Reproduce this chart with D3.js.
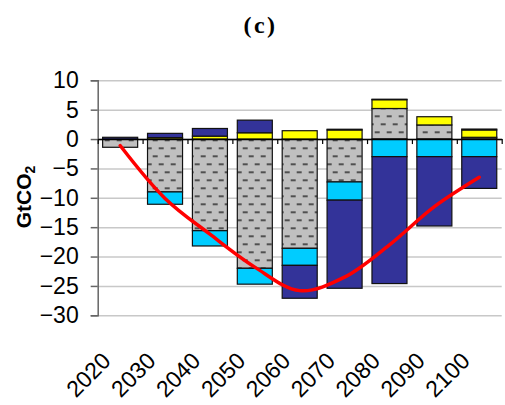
<!DOCTYPE html>
<html>
<head>
<meta charset="utf-8">
<script src="https://cdn.jsdelivr.net/npm/d3@7"></script>
<style>
  html, body { margin: 0; padding: 0; background: #fff; }
  svg { display: block; }
</style>
</head>
<body>
<div id="chart"></div>
<script>
'use strict';

// ---- data ----
var years      = ['2020', '2030', '2040', '2050', '2060', '2070', '2080', '2090', '2100'];
var yTicks     = [10, 5, 0, -5, -10, -15, -20, -25, -30];
var grayVals   = [-1.4, -9.0, -15.6, -22.0, -18.6, -7.3, 5.2, 2.4, 0.3];
var cyanVals   = [0, -2.1, -2.6, -2.7, -2.9, -3.1, -3.0, -3.0, -3.0];
var yellowVals = [0, 0.25, 0.5, 1.07, 1.42, 1.55, 1.5, 1.4, 1.25];
var navyVals   = [0.3, 0.72, 1.3, 2.15, -5.6, -15.0, -21.6, -11.8, -5.4];
var orangeVals = [0, 0, 0, 0, 0, 0.12, 0.08, 0, 0.15];
var netVals    = [-1.1, -10.1, -16.2, -21.8, -25.8, -23.5, -18.0, -11.5, -6.5];

var seriesKeys = ['gray', 'cyan', 'yellow', 'navy', 'orange'];
var seriesVals = { gray: grayVals, cyan: cyanVals, yellow: yellowVals, navy: navyVals, orange: orangeVals };
var colors = { gray: 'url(#dash)', cyan: '#00ccff', yellow: '#ffff00', navy: '#333399', orange: '#ff6600' };

var W = 505, H = 405;
var margins = { left: 97.7, top: 80.3, right: 3.3, bottom: 89.7 };
var cw = W - margins.left - margins.right;
var ch = H - margins.top - margins.bottom;

var table = years.map(function(y, i) {
    var row = { year: y };
    seriesKeys.forEach(function(k) { row[k] = seriesVals[k][i]; });
    return row;
});

var svg = d3.select('#chart').append('svg')
    .attr('width', W)
    .attr('height', H);

// dashed grey fill
var pat = svg.append('defs').append('pattern')
    .attr('id', 'dash')
    .attr('patternUnits', 'userSpaceOnUse')
    .attr('width', 12)
    .attr('height', 16);
pat.append('rect').attr('width', 12).attr('height', 16).attr('fill', '#c0c0c0');
pat.append('rect').attr('x', 1).attr('y', 3).attr('width', 5).attr('height', 2).attr('fill', '#505050');
pat.append('rect').attr('x', 7).attr('y', 11).attr('width', 5).attr('height', 2).attr('fill', '#505050');

var g = svg.append('g')
    .attr('transform', 'translate(' + margins.left + ',' + margins.top + ')');

var xScale = d3.scaleBand().domain(years).range([0, cw]).paddingInner(0.22).paddingOuter(0.11);
var yScale = d3.scaleLinear().domain([-30, 10]).range([ch, 0]);
var slot = d3.scaleLinear().domain([0, years.length]).range([0, cw]);

// gridlines
g.append('g')
    .attr('class', 'grid')
    .call(d3.axisLeft(yScale).tickValues(yTicks).tickSize(-cw).tickFormat(''))
    .call(function(s) {
        s.select('.domain').remove();
        s.selectAll('line').attr('stroke', '#c8c8c8').attr('stroke-width', 1.5);
    });

// stacked bars
var stacked = d3.stack().keys(seriesKeys).offset(d3.stackOffsetDiverging)(table);

g.append('g').selectAll('g')
    .data(stacked)
    .enter().append('g')
    .attr('fill', function(d) { return colors[d.key]; })
    .selectAll('rect')
    .data(function(d) { return d.filter(function(p) { return p[1] !== p[0]; }); })
    .enter().append('rect')
    .attr('x', function(d) { return xScale(d.data.year); })
    .attr('width', xScale.bandwidth())
    .attr('y', function(d) { return yScale(Math.max(d[0], d[1])); })
    .attr('height', function(d) { return Math.abs(yScale(d[0]) - yScale(d[1])); })
    .attr('stroke', '#111')
    .attr('stroke-width', 1.2);

// left axis
g.append('g')
    .attr('class', 'axis axis--y')
    .call(d3.axisLeft(yScale).tickValues(yTicks).tickSize(7).tickPadding(12).tickFormat(d3.format('d')))
    .call(function(s) {
        s.select('.domain').attr('stroke', '#666').attr('stroke-width', 1.5);
        s.selectAll('line').attr('stroke', '#666').attr('stroke-width', 1.5);
        s.selectAll('text')
            .attr('fill', '#000')
            .style('font', '23px "Liberation Sans", Arial, sans-serif');
    });

// zero axis with ticks between categories
g.append('g')
    .attr('class', 'axis axis--x')
    .attr('transform', 'translate(0,' + yScale(0) + ')')
    .call(d3.axisBottom(slot).tickValues(d3.range(0, years.length + 1)).tickSize(5).tickSizeOuter(0).tickFormat(''))
    .call(function(s) {
        s.select('.domain').attr('stroke', '#000').attr('stroke-width', 1.5);
        s.selectAll('line').attr('stroke', '#000').attr('stroke-width', 1.2);
    });

// net line
var line = d3.line()
    .curve(d3.curveCatmullRom.alpha(0.5))
    .x(function(d, i) { return xScale(years[i]) + xScale.bandwidth() / 2; })
    .y(function(d) { return yScale(d); });

g.append('path')
    .datum(netVals)
    .attr('fill', 'none')
    .attr('stroke', '#ff0000')
    .attr('stroke-width', 3.5)
    .attr('stroke-linecap', 'round')
    .attr('d', line);

// category labels
g.append('g').selectAll('text')
    .data(years)
    .enter().append('text')
    .attr('transform', function(d) {
        return 'translate(' + (xScale(d) + xScale.bandwidth() / 2 - 8) + ',' + (ch + 47) + ') rotate(-45)';
    })
    .attr('text-anchor', 'end')
    .style('font', '23px "Liberation Sans", Arial, sans-serif')
    .text(function(d) { return d; });

// y label
var yl = svg.append('text')
    .attr('transform', 'translate(31,197) rotate(-90)')
    .attr('text-anchor', 'middle')
    .style('font', 'bold 21px "Liberation Sans", Arial, sans-serif');
yl.append('tspan').text('GtCO');
yl.append('tspan').attr('dy', 4).style('font-size', '14px').text('2');

// title
svg.append('text')
    .attr('x', 260.5)
    .attr('y', 33)
    .attr('text-anchor', 'middle')
    .style('font', 'bold 24px "Liberation Serif", "Times New Roman", serif')
    .style('letter-spacing', '2.5px')
    .text('(c)');
</script>
</body>
</html>
